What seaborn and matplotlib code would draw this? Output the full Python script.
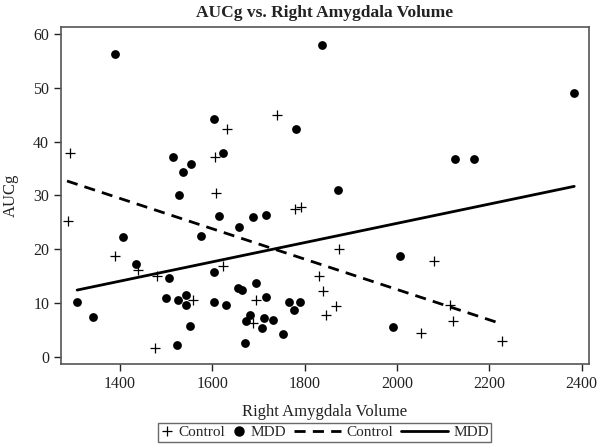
import numpy as np
import pandas as pd
import seaborn as sns
import matplotlib.pyplot as plt
from matplotlib.lines import Line2D
from matplotlib.legend_handler import HandlerLine2D

# MDD group (filled circles)
mdd_volume = [1389, 1838, 2384, 1604, 1781, 1514, 1622, 1554, 1536, 1527,
              2126, 2167, 1872, 1615, 1658, 1687, 1717, 1575, 1406, 1434,
              1604, 1507, 1306, 1342, 1500, 1525, 1542, 1543, 1552, 1524,
              1604, 1630, 1655, 1664, 1694, 1716, 1682, 1673, 1711, 1708,
              1732, 1671, 1753, 1766, 1789, 1776, 1992, 2007]
mdd_aucg = [56.3, 58.0, 49.0, 44.3, 42.3, 37.1, 38.0, 35.8, 34.4, 30.0,
            36.8, 36.8, 31.0, 26.2, 24.2, 26.0, 26.3, 22.5, 22.2, 17.2,
            15.8, 14.7, 10.2, 7.3, 11.0, 10.6, 11.4, 9.6, 5.7, 2.2,
            10.1, 9.7, 12.8, 12.5, 13.7, 11.2, 7.7, 6.7, 7.2, 5.3,
            6.9, 2.6, 4.2, 10.2, 10.2, 8.6, 5.5, 18.7]

# Control group (plus signs)
ctrl_volume = [1292, 1287, 1389, 1438, 1480, 1476, 1558, 1606, 1608, 1631,
               1623, 1694, 1687, 1741, 1780, 1792, 1831, 1839, 1846, 1868,
               1874, 2081, 2115, 2121, 2052, 2228]
ctrl_aucg = [38.0, 25.3, 18.7, 16.1, 15.0, 1.7, 10.6, 37.1, 30.5, 42.3,
             16.9, 10.6, 6.3, 45.0, 27.4, 27.8, 15.1, 12.2, 7.7, 9.5,
             20.0, 17.8, 9.7, 6.6, 4.4, 3.0]

# fitted lines as shown in the figure (end points)
ctrl_fit_x = [1285, 2227]
ctrl_fit_y = [32.7, 6.1]
mdd_fit_x = [1307, 2384]
mdd_fit_y = [12.4, 31.7]

mdd = pd.DataFrame({"vol": mdd_volume, "aucg": mdd_aucg})
ctrl = pd.DataFrame({"vol": ctrl_volume, "aucg": ctrl_aucg})

sns.set_style("ticks")
plt.rcParams["font.family"] = ["Liberation Serif", "DejaVu Serif"]

fig = plt.figure(figsize=(6.01, 4.48), dpi=100)
ax = fig.add_axes([61 / 601, 1 - 364 / 448, (589 - 61) / 601, (364 - 27.3) / 448])

sns.scatterplot(data=ctrl, x="vol", y="aucg", marker="+", color="black",
                s=45, linewidth=0.9, ax=ax, zorder=3)
sns.scatterplot(data=mdd, x="vol", y="aucg", marker="o", color="black",
                s=40, edgecolor="black", linewidth=0, ax=ax, zorder=3)

dash = (0, (4, 2.6))
sns.lineplot(x=ctrl_fit_x, y=ctrl_fit_y, color="black", linewidth=2.0,
             linestyle=dash, ax=ax)
sns.lineplot(x=mdd_fit_x, y=mdd_fit_y, color="black", linewidth=2.0, ax=ax)

ax.set_xlim(1272, 2416)
ax.set_ylim(-1.36, 61.3)
ax.set_xticks([1400, 1600, 1800, 2000, 2200, 2400])
ax.set_yticks([0, 10, 20, 30, 40, 50, 60])
ax.tick_params(direction="out", length=5, width=1, labelsize=11.5, colors="#222222")
for sp in ax.spines.values():
    sp.set_color("#555555")
    sp.set_linewidth(1.2)

ax.set_xlabel("Right Amygdala Volume", fontsize=12, color="#222222", labelpad=9)
ax.set_ylabel("AUCg", fontsize=12, color="#222222", labelpad=10)
fig.text(325 / 601, 1 - 13 / 448, "AUCg vs. Right Amygdala Volume", ha="center",
         va="center", fontsize=12.5, fontweight="bold", color="#222222")


class ShortHandle(HandlerLine2D):
    # marker entries take less room than the line entries
    def __init__(self, width, **kw):
        super().__init__(**kw)
        self.short_width = width

    def legend_artist(self, legend, orig_handle, fontsize, handlebox):
        handlebox.width = self.short_width
        return super().legend_artist(legend, orig_handle, fontsize, handlebox)


handles = [
    Line2D([], [], marker="+", color="black", linestyle="none", markersize=7, markeredgewidth=0.9),
    Line2D([], [], marker="o", color="black", linestyle="none", markersize=6.5),
    Line2D([], [], color="black", linestyle=dash, linewidth=2.0),
    Line2D([], [], color="black", linewidth=2.0),
]
labels = ["Control", "MDD", "Control", "MDD"]
leg = fig.legend(handles, labels, loc="center", ncol=4,
                 bbox_to_anchor=(324.7 / 601, 1 - 432.4 / 448),
                 handler_map={handles[0]: ShortHandle(9), handles[1]: ShortHandle(9)},
                 fontsize=11, frameon=True, fancybox=False, handlelength=3.1,
                 handletextpad=0.35, columnspacing=0.5, borderpad=0.15)
leg.get_frame().set_edgecolor("#444444")
leg.get_frame().set_linewidth(1.0)

fig.savefig("out.png", dpi=100)
